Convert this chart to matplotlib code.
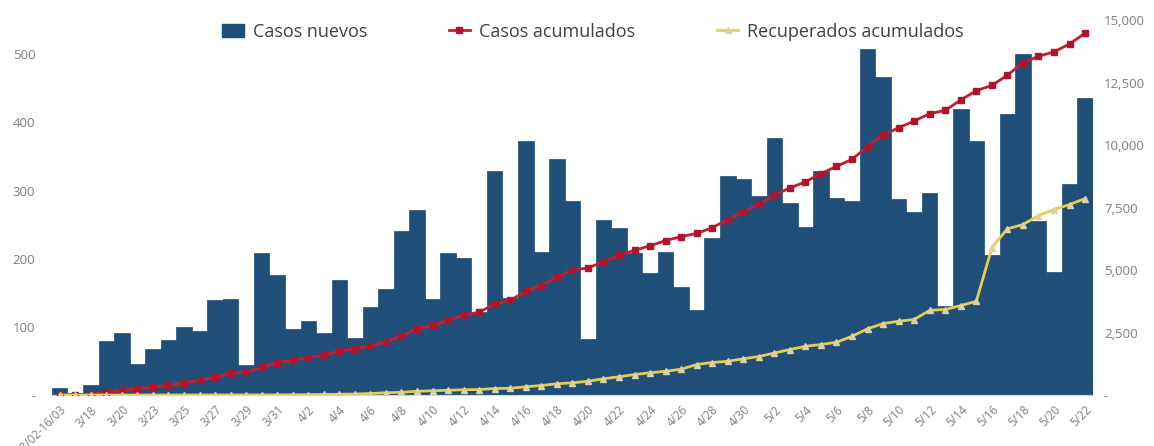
import matplotlib
matplotlib.use('Agg')
import matplotlib.pyplot as plt
import matplotlib.ticker as mticker
from matplotlib.lines import Line2D
from matplotlib.patches import Patch
import numpy as np

# categorias (fechas)
fechas = ['08/02-16/03', '3/17', '3/18', '3/19', '3/20', '3/21',
          '3/23', '3/24', '3/25', '3/26', '3/27', '3/28', '3/29', '3/30', '3/31',
          '4/1', '4/2', '4/3', '4/4', '4/5', '4/6', '4/7', '4/8', '4/9', '4/10',
          '4/11', '4/12', '4/13', '4/14', '4/15', '4/16', '4/17', '4/18', '4/19',
          '4/20', '4/21', '4/22', '4/23', '4/24', '4/25', '4/26', '4/27', '4/28',
          '4/29', '4/30', '5/1', '5/2', '5/3', '5/4', '5/5', '5/6', '5/7', '5/8',
          '5/9', '5/10', '5/11', '5/12', '5/13', '5/14', '5/15', '5/16', '5/17',
          '5/18', '5/19', '5/20', '5/21', '5/22']

casos_nuevos = [10, 3, 14, 79, 91, 46, 68, 81, 100, 94, 139, 141, 44, 209, 176,
                97, 109, 91, 168, 84, 129, 156, 240, 272, 141, 209, 201, 122, 329,
                143, 372, 210, 346, 285, 82, 256, 245, 209, 179, 210, 159, 125, 231,
                321, 317, 292, 377, 282, 246, 328, 289, 284, 507, 467, 287, 268, 297,
                130, 420, 372, 206, 412, 500, 255, 181, 310, 435]

casos_acumulados = [10, 13, 27, 106, 197, 243, 311, 392, 492, 586, 725, 866, 910,
                    1119, 1295, 1392, 1501, 1592, 1760, 1844, 1973, 2129, 2369, 2641,
                    2782, 2991, 3192, 3314, 3643, 3786, 4158, 4368, 4714, 4999, 5081,
                    5337, 5582, 5791, 5970, 6180, 6339, 6464, 6695, 7016, 7333, 7625,
                    8002, 8284, 8530, 8858, 9147, 9431, 9938, 10405, 10692, 10960,
                    11257, 11387, 11805, 12177, 12383, 12795, 13295, 13550, 13731,
                    14041, 14476]

recuperados_acumulados = [0, 0, 0, 0, 0, 0, 1, 1, 2, 2, 3, 3, 5, 5, 5, 10, 15, 25, 30,
                          40, 60, 90, 110, 150, 170, 190, 210, 220, 260, 270, 330, 380,
                          450, 490, 550, 650, 730, 820, 890, 950, 1030, 1220, 1300,
                          1350, 1450, 1540, 1680, 1820, 1950, 2020, 2110, 2350, 2650,
                          2860, 2950, 3020, 3390, 3420, 3580, 3750, 5890, 6650, 6820,
                          7180, 7420, 7620, 7860]

azul = '#1F4E79'
rojo = '#C41E2E'
amarillo = '#EBCB4C'
gris = '#7F7F7F'

plt.rcParams['font.family'] = ['Open Sans', 'DejaVu Sans']

fig = plt.figure(figsize=(11.54, 4.46), dpi=100)
ax1 = fig.add_axes([0.045, 0.1143, 0.902, 0.8407])
x = np.arange(len(fechas))

ax1.bar(x, casos_nuevos, width=1.0, color=azul, edgecolor=azul, linewidth=0.5, zorder=1)
ax1.set_xlim(-0.5, len(fechas) - 0.5)
ax1.set_ylim(0, 550)
ax1.set_yticks(np.arange(0, 501, 100))
ax1.yaxis.set_major_formatter(mticker.FuncFormatter(lambda v, p: '-' if v == 0 else '%d' % v))

ax2 = ax1.twinx()
ax2.plot(x, casos_acumulados, color=rojo, lw=2, marker='s', ms=4,
         mfc='#B0142A', mec='#B0142A', zorder=3)
ax2.plot(x, recuperados_acumulados, color=amarillo, lw=2, marker='^', ms=4,
         mfc='#D9D2A6', mec='#D9D2A6', zorder=3)
ax2.set_ylim(0, 15000)
ax2.set_yticks(np.arange(0, 15001, 2500))
ax2.yaxis.set_major_formatter(mticker.FuncFormatter(lambda v, p: '-' if v == 0 else '{:,.0f}'.format(v)))

# ticks del eje x cada dos categorias
ax1.set_xticks(x[::2])
ax1.set_xticklabels(fechas[::2], rotation=45, ha='right', rotation_mode='anchor')

for ax in (ax1, ax2):
    for s in ax.spines.values():
        s.set_visible(False)
    ax.tick_params(length=0, labelsize=9.5, labelcolor=gris)
ax1.spines['bottom'].set_visible(True)
ax1.spines['bottom'].set_color('#D9D9D9')
ax1.tick_params(axis='y', pad=12)
ax1.tick_params(axis='x', pad=6, labelsize=8.3)
ax2.tick_params(axis='y', pad=8)

handles = [Patch(facecolor=azul, edgecolor=azul),
           Line2D([0], [0], color=rojo, lw=2, marker='s', ms=4, mfc='#B0142A', mec='#B0142A'),
           Line2D([0], [0], color=amarillo, lw=2, marker='^', ms=4, mfc='#D9D2A6', mec='#D9D2A6')]
etiquetas = ['Casos nuevos', 'Casos acumulados', 'Recuperados acumulados']
leg = fig.legend(handles, etiquetas, loc='center', bbox_to_anchor=(0.514, 0.929), ncol=3,
                 frameon=False, fontsize=13, columnspacing=4.5, handlelength=1.2,
                 handletextpad=0.5)
for t in leg.get_texts():
    t.set_color('#404040')

plt.savefig('out.png', dpi=100)
